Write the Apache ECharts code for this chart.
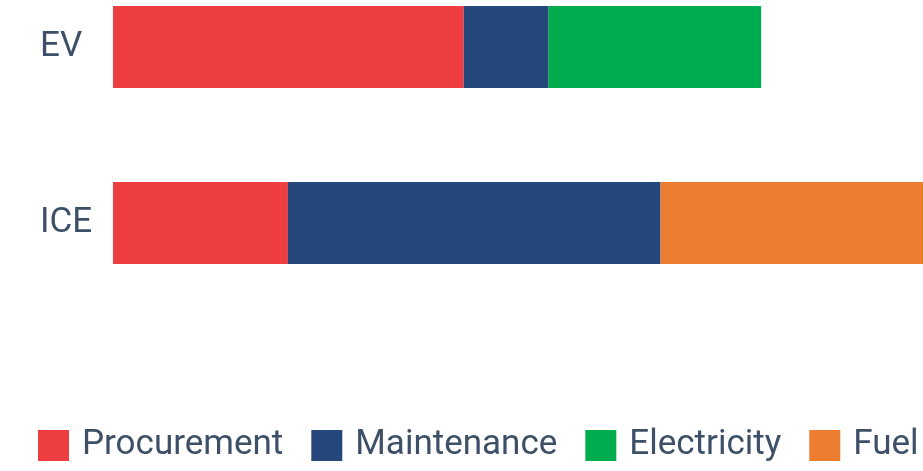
<!DOCTYPE html>
<html>
<head>
<meta charset="utf-8">
<script src="https://cdn.jsdelivr.net/npm/echarts@6/dist/echarts.min.js"></script>
<style>html,body{margin:0;padding:0;background:#fff}#c{width:923px;height:471px}</style>
</head>
<body>
<div id="c"></div>
<script>
const categories = ['ICE', 'EV'];
const seriesNames = ['Procurement', 'Maintenance', 'Electricity', 'Fuel'];
const procurement = [20, 40.1];
const maintenance = [42.6, 9.7];
const electricity = [0, 24.3];
const fuel = [30, 0];
const colors = ['#EF3E42', '#26477C', '#00AD4E', '#ED7D31'];

const valuesList = [procurement, maintenance, electricity, fuel];
const totals = categories.map((_, i) => valuesList.reduce((s, arr) => s + arr[i], 0));
const maxTotal = Math.max(...totals);

const chart = echarts.init(document.getElementById('c'));
chart.setOption({
  animation: false,
  color: colors,
  grid: { left: 113, right: 0, top: 47, bottom: 248, containLabel: false },
  xAxis: { type: 'value', min: 0, max: maxTotal, show: false },
  yAxis: {
    type: 'category', data: categories, boundaryGap: false,
    axisLine: { show: false }, axisTick: { show: false }, splitLine: { show: false },
    axisLabel: { align: 'left', margin: 73, fontFamily: 'Roboto', fontSize: 35, color: '#3D5067' }
  },
  legend: {
    top: 428, left: 38, padding: 0, itemWidth: 31, itemHeight: 31, itemGap: 28,
    icon: 'rect',
    textStyle: { fontFamily: 'Roboto', fontSize: 35, lineHeight: 35, color: '#3D5067', padding: [0, 0, 0, 8] },
    data: seriesNames
  },
  series: seriesNames.map((name, k) => ({
    name, type: 'bar', stack: 'total', barWidth: 82, clip: false,
    data: valuesList[k].map(v => v === 0 ? null : v)
  }))
});
</script>
</body>
</html>
